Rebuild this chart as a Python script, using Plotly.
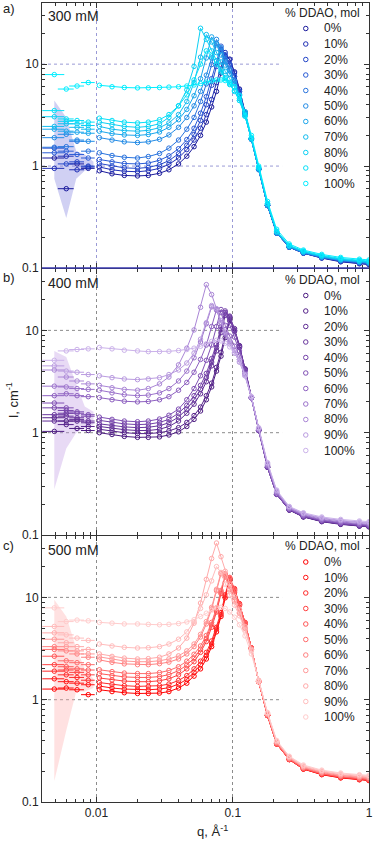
import math
import plotly.graph_objects as go

# ---------------- data ----------------
LABELS = ["0%", "10%", "20%", "30%", "40%", "50%", "60%", "70%", "80%", "90%", "100%"]
LEGEND_TITLE = "% DDAO, mol"
PANELS = ["300 mM", "400 mM", "500 mM"]
PANEL_TAGS = ["a)", "b)", "c)"]

Q = [0.0105, 0.013, 0.016, 0.02, 0.024, 0.029, 0.034, 0.04, 0.046, 0.052, 0.058, 0.064, 0.07,
     0.076, 0.082, 0.088, 0.095, 0.103, 0.112, 0.123, 0.137, 0.155, 0.18, 0.21, 0.26, 0.33,
     0.45, 0.62, 0.85, 1.0]
Q_LOW = [0.0049, 0.006, 0.0072, 0.0087]
Q_LOW_ERR = [0.0009, 0.0008, 0.0009, 0.001]

I300 = [
    [0.90,0.84,0.81,0.80,0.81,0.85,0.92,1.05,1.25,1.55,2.0,2.7,3.8,5.4,8.2,12.0,11.2,8.4,5.7,3.4,1.85,0.93,0.41,0.22,0.16,0.14,0.125,0.115,0.11,0.108],
    [0.98,0.92,0.89,0.88,0.90,0.95,1.04,1.2,1.45,1.8,2.35,3.2,4.5,6.6,9.8,13.0,11.0,8.2,5.6,3.4,1.85,0.93,0.41,0.22,0.16,0.14,0.126,0.116,0.111,0.109],
    [1.06,1.0,0.96,0.95,0.97,1.03,1.13,1.32,1.6,2.05,2.8,4.0,6.2,9.5,14.0,12.0,9.8,7.6,5.4,3.35,1.85,0.93,0.41,0.22,0.16,0.14,0.126,0.117,0.112,0.11],
    [1.16,1.1,1.06,1.05,1.07,1.14,1.26,1.48,1.82,2.35,3.3,4.8,7.2,10.8,15.0,12.4,10.0,7.6,5.4,3.3,1.85,0.93,0.41,0.22,0.16,0.141,0.127,0.118,0.113,0.111],
    [1.35,1.27,1.22,1.2,1.24,1.33,1.5,1.8,2.3,3.0,4.3,6.4,9.9,16.0,13.6,10.6,8.6,6.8,5.0,3.25,1.82,0.92,0.41,0.22,0.16,0.141,0.127,0.118,0.113,0.111],
    [1.9,1.8,1.73,1.7,1.73,1.83,2.02,2.4,3.0,3.9,5.4,7.8,11.5,17.5,14.5,11.2,8.9,6.9,5.0,3.25,1.83,0.93,0.41,0.22,0.162,0.142,0.128,0.119,0.114,0.112],
    [2.2,2.08,2.02,2.0,2.04,2.16,2.4,2.85,3.6,4.9,7.2,11.5,18.5,15.5,12.3,9.8,8.0,6.5,4.9,3.2,1.85,0.94,0.42,0.225,0.163,0.143,0.129,0.12,0.115,0.113],
    [2.45,2.3,2.23,2.2,2.24,2.38,2.65,3.2,4.3,6.6,11.7,19.5,16.5,13.0,10.5,8.5,7.2,6.0,4.6,3.1,1.85,0.95,0.42,0.225,0.164,0.144,0.13,0.121,0.116,0.114],
    [2.7,2.55,2.45,2.4,2.45,2.6,3.0,3.9,5.6,9.5,22.5,17.5,13.5,10.8,8.8,7.4,6.4,5.5,4.4,3.1,1.87,0.96,0.43,0.228,0.165,0.145,0.131,0.122,0.117,0.115],
    [2.95,2.8,2.7,2.65,2.7,2.85,3.2,3.9,5.0,7.0,10.0,13.5,12.0,10.0,8.4,7.2,6.3,5.4,4.4,3.1,1.9,0.97,0.43,0.23,0.167,0.147,0.133,0.124,0.119,0.117],
    [6.2,6.0,5.9,5.85,5.85,5.9,5.95,6.0,6.1,6.25,6.45,6.65,6.85,7.0,7.0,6.9,6.6,6.0,4.9,3.4,2.0,1.0,0.45,0.24,0.172,0.15,0.136,0.127,0.122,0.12],
]
I300_LOW = [
    [1.2,0.6,1.05,0.95], [0.95,1.25,0.92,0.98], [1.5,1.05,1.1,1.0], [1.35,1.4,1.3,1.2],
    [1.53,1.55,1.75,1.4], [1.9,2.05,1.8,1.75], [2.3,2.2,2.15,2.1], [2.45,2.6,2.4,2.3],
    [3.05,2.75,2.6,2.5], [3.5,2.9,2.8,2.7], [7.9,5.7,6.1,6.6],
]

I400 = [
    [1.0,0.96,0.92,0.9,0.9,0.91,0.95,1.02,1.15,1.35,1.63,2.1,2.8,4.0,5.6,8.5,12.5,10.0,7.0,4.2,2.2,1.05,0.46,0.25,0.175,0.15,0.135,0.127,0.122,0.12],
    [1.08,1.04,1.0,0.98,0.98,1.0,1.04,1.12,1.26,1.47,1.78,2.3,3.05,4.35,6.1,9.2,13.5,10.4,7.1,4.2,2.2,1.05,0.46,0.25,0.176,0.151,0.136,0.128,0.123,0.121],
    [1.15,1.1,1.07,1.05,1.05,1.08,1.15,1.3,1.55,1.9,2.4,3.15,4.5,6.3,9.5,14.0,13.0,9.8,6.8,4.1,2.2,1.05,0.46,0.25,0.176,0.151,0.136,0.128,0.123,0.121],
    [1.22,1.17,1.14,1.12,1.13,1.17,1.25,1.42,1.7,2.1,2.65,3.45,4.9,6.8,10.2,15.0,13.5,10.0,6.9,4.1,2.2,1.05,0.46,0.25,0.177,0.152,0.137,0.129,0.124,0.122],
    [1.32,1.26,1.22,1.2,1.21,1.26,1.35,1.55,1.85,2.3,2.9,3.8,5.3,7.3,10.8,15.5,13.8,10.1,6.9,4.1,2.2,1.06,0.46,0.25,0.177,0.152,0.137,0.129,0.124,0.122],
    [1.42,1.35,1.3,1.28,1.3,1.36,1.48,1.7,2.1,2.7,3.6,5.1,7.2,10.9,16.0,14.9,11.2,8.6,6.3,4.0,2.2,1.06,0.47,0.25,0.178,0.153,0.138,0.13,0.125,0.123],
    [2.2,2.1,2.03,2.0,2.02,2.1,2.25,2.6,3.1,3.9,5.2,7.2,10.9,16.0,14.9,11.2,8.8,7.0,5.6,3.8,2.2,1.07,0.47,0.255,0.18,0.155,0.14,0.132,0.127,0.125],
    [2.6,2.45,2.35,2.3,2.33,2.45,2.7,3.2,4.0,5.4,7.7,11.6,17.0,15.8,11.9,9.3,7.7,6.4,5.2,3.7,2.2,1.08,0.48,0.26,0.182,0.157,0.142,0.134,0.129,0.127],
    [2.9,2.75,2.65,2.6,2.7,3.0,3.5,4.6,6.7,10.1,16.8,28.0,22.4,16.2,12.0,9.2,7.4,6.0,4.9,3.6,2.2,1.09,0.49,0.265,0.185,0.16,0.145,0.137,0.132,0.13],
    [3.6,3.45,3.35,3.3,3.35,3.45,3.7,4.1,4.8,6.0,8.2,11.9,17.5,16.3,12.5,9.8,7.9,6.5,5.2,3.7,2.25,1.1,0.5,0.27,0.188,0.162,0.147,0.139,0.134,0.132],
    [6.8,6.6,6.4,6.3,6.2,6.2,6.25,6.35,6.5,6.7,7.0,7.4,7.8,8.0,7.9,7.5,6.9,6.1,5.0,3.6,2.25,1.12,0.51,0.275,0.19,0.165,0.15,0.142,0.137,0.135],
]
I400_LOW = [
    [1.03,1.3,1.1,1.05], [1.4,1.2,1.3,1.15], [1.3,1.45,1.35,1.25], [1.5,1.55,1.4,1.3],
    [1.75,1.65,1.55,1.45], [1.95,1.75,1.6,1.5], [2.3,2.4,2.3,2.25], [2.85,2.8,2.7,2.65],
    [4.1,3.5,3.2,3.0], [4.5,4.0,3.9,3.7], [5.1,6.3,6.5,6.6],
]

I500 = [
    [1.25,1.2,1.17,1.15,1.15,1.16,1.2,1.3,1.45,1.7,2.0,2.5,3.3,4.6,6.5,9.9,14.5,11.6,8.5,5.6,3.2,1.5,0.7,0.37,0.26,0.21,0.185,0.172,0.165,0.162],
    [1.36,1.3,1.27,1.25,1.25,1.27,1.31,1.42,1.58,1.85,2.2,2.7,3.5,4.9,6.8,10.3,15.0,11.9,8.6,5.6,3.2,1.5,0.7,0.37,0.26,0.21,0.186,0.173,0.166,0.163],
    [1.47,1.41,1.37,1.35,1.35,1.37,1.42,1.54,1.72,2.0,2.38,2.9,3.75,5.1,7.1,10.6,15.5,12.2,8.7,5.7,3.2,1.5,0.7,0.37,0.26,0.211,0.187,0.174,0.167,0.164],
    [1.63,1.56,1.52,1.5,1.5,1.53,1.6,1.75,2.0,2.35,2.9,3.7,5.1,7.2,10.9,16.0,14.9,11.2,8.3,5.5,3.2,1.5,0.7,0.37,0.262,0.212,0.188,0.175,0.168,0.165],
    [1.8,1.72,1.67,1.65,1.65,1.68,1.76,1.92,2.18,2.55,3.1,3.95,5.4,7.5,11.3,16.5,15.3,11.5,8.4,5.5,3.2,1.5,0.7,0.37,0.262,0.213,0.189,0.176,0.169,0.166],
    [1.96,1.88,1.82,1.8,1.8,1.84,1.93,2.1,2.38,2.78,3.35,4.25,5.7,7.9,11.7,17.0,15.7,11.8,8.5,5.6,3.2,1.52,0.71,0.375,0.264,0.214,0.19,0.177,0.17,0.167],
    [2.45,2.32,2.24,2.2,2.2,2.25,2.33,2.5,2.8,3.3,4.1,5.5,7.7,11.6,17.0,15.8,11.9,9.2,7.0,5.0,3.1,1.52,0.72,0.38,0.268,0.218,0.194,0.181,0.174,0.171],
    [2.62,2.48,2.39,2.35,2.35,2.4,2.5,2.68,3.0,3.5,4.35,5.8,8.0,12.0,17.5,16.2,12.2,9.4,7.1,5.0,3.1,1.53,0.72,0.385,0.27,0.22,0.196,0.183,0.176,0.173],
    [2.8,2.65,2.55,2.5,2.52,2.6,2.8,3.2,4.0,5.6,8.8,15.0,24.0,34.0,25.0,18.0,13.5,10.2,7.6,5.2,3.1,1.54,0.73,0.39,0.273,0.222,0.198,0.185,0.178,0.175],
    [3.5,3.35,3.25,3.2,3.22,3.3,3.5,3.9,4.6,5.8,7.8,10.6,14.5,20.0,17.5,13.5,10.5,8.4,6.6,4.8,3.0,1.55,0.74,0.395,0.277,0.226,0.202,0.189,0.182,0.179],
    [5.7,5.6,5.5,5.5,5.45,5.4,5.45,5.55,5.75,6.05,6.5,7.0,7.5,7.9,8.0,7.8,7.2,6.4,5.4,4.2,2.8,1.5,0.75,0.4,0.28,0.23,0.205,0.192,0.185,0.182],
]
I500_LOW = [
    [1.27,1.3,1.25,1.12], [1.6,1.5,1.45,1.4], [1.9,1.75,1.65,1.55], [2.2,1.95,1.85,1.75],
    [2.66,2.1,2.0,1.95], [3.1,2.4,2.3,2.2], [3.3,3.0,2.8,2.6], [3.9,3.3,3.0,2.8],
    [4.5,3.6,3.3,3.1], [5.2,4.3,4.0,3.8], [7.9,5.8,6.0,5.9],
]

# shaded error bands at low q
BAND_Q = [0.0049, 0.006, 0.0071, 0.0082, 0.0095]
BAND300_HI = [4.4, 3.0, 1.4, 1.3, 1.1]
BAND300_LO = [0.75, 0.31, 0.75, 0.9, 0.95]
BAND400_HI = [6.3, 5.5, 3.0, 1.8, 1.6]
BAND400_LO = [0.28, 0.7, 1.0, 1.1, 1.2]
BAND500_HI = [9.5, 6.5, 3.2, 2.0, 1.6]
BAND500_LO = [0.16, 0.5, 1.2, 1.2, 1.3]

COLORS300 = ["#1a1a9c", "#1f2fb5", "#2446c8", "#2a5cd6", "#2a74de", "#248ce6",
             "#1aa6ec", "#12bcf0", "#0ad0f4", "#06e0f8", "#00eeff"]
COLORS400 = ["#4b1a80", "#55228a", "#5f2c94", "#69379e", "#7442a8", "#8050b4",
             "#8d60c0", "#9b72cb", "#aa86d6", "#ba9ce0", "#cbb2ea"]
COLORS500 = ["#ff0000", "#ff1414", "#ff2a2a", "#ff4040", "#ff5656", "#ff6c6c",
             "#ff8282", "#ff9898", "#ffaaaa", "#ffbcbc", "#ffcccc"]
BAND_COLORS = ["rgba(120,120,220,0.35)", "rgba(190,150,225,0.35)", "rgba(255,170,170,0.35)"]

X_TICKS = [0.01, 0.1, 1]
X_TICKTEXT = ["0.01", "0.1", "1"]
Y_TICKS = [0.1, 1, 10]
Y_TICKTEXT = ["0.1", "1", "10"]
H_GRID = [1, 10]

# ---------------- geometry ----------------
W, H = 375, 844
ML, MR, MT, MB = 42, 2, 3, 42
PW = W - ML - MR
PH = H - MT - MB
YLOG = [-1.0, 1.6]
XLOG = [-2.4, 0.0]


def py(px):
    return (H - MB - px) / PH


def px_x(px):
    return (px - ML) / PW


domains = [[py(268), 1.0], [py(535), py(269)], [0.0, py(536)]]
label_y = [9, 277, 545]
name_y = [16, 283, 550]
legend_title_y = [13, 280, 546]
legend_first_y = [28.5, 295.5, 562]
LEGEND_STEP = 15.5

FONT = "Liberation Sans, Arial, sans-serif"
minor_x = [0.004, 0.005, 0.006, 0.007, 0.008, 0.009, 0.02, 0.03, 0.04, 0.05, 0.06, 0.07,
           0.08, 0.09, 0.2, 0.3, 0.4, 0.5, 0.6, 0.7, 0.8, 0.9]
minor_y = [0.2, 0.3, 0.4, 0.5, 0.6, 0.7, 0.8, 0.9, 2, 3, 4, 5, 6, 7, 8, 9, 20, 30]

fig = go.Figure()

datasets = [(I300, I300_LOW, COLORS300, BAND300_HI, BAND300_LO),
            (I400, I400_LOW, COLORS400, BAND400_HI, BAND400_LO),
            (I500, I500_LOW, COLORS500, BAND500_HI, BAND500_LO)]

for p, (vals, lows, cols, bhi, blo) in enumerate(datasets):
    xa = "x" if p == 0 else f"x{p+1}"
    ya = "y" if p == 0 else f"y{p+1}"
    fig.add_trace(go.Scatter(x=BAND_Q + BAND_Q[::-1], y=bhi + blo[::-1], fill="toself",
                             fillcolor=BAND_COLORS[p], line=dict(width=0), mode="lines",
                             showlegend=False, hoverinfo="skip", xaxis=xa, yaxis=ya))
    for i, lab in enumerate(LABELS):
        c = cols[i]
        fig.add_trace(go.Scatter(x=Q, y=vals[i], mode="lines", line=dict(color=c, width=1),
                                 showlegend=False, hoverinfo="skip", xaxis=xa, yaxis=ya))
        fig.add_trace(go.Scatter(
            x=Q_LOW + Q, y=lows[i] + vals[i], mode="markers", name=lab, showlegend=False,
            marker=dict(symbol="circle-open", size=4.5, color=c, line=dict(width=1, color=c)),
            error_x=dict(type="data", array=Q_LOW_ERR + [0] * len(Q), color=c,
                         thickness=1, width=0),
            xaxis=xa, yaxis=ya))

# legend markers on a pixel-space overlay axis
leg_x, leg_y, leg_c = [], [], []
for p, (vals, lows, cols, bhi, blo) in enumerate(datasets):
    for i in range(len(LABELS)):
        leg_x.append(309)
        leg_y.append(legend_first_y[p] + i * LEGEND_STEP)
        leg_c.append(cols[i])
fig.add_trace(go.Scatter(x=leg_x, y=leg_y, mode="markers", showlegend=False, hoverinfo="skip",
                         marker=dict(symbol="circle-open", size=4.5, color=leg_c,
                                     line=dict(width=1)),
                         xaxis="x4", yaxis="y4"))

grid_cols = ["#9a9ad6", "#8c8c8c", "#8c8c8c"]
layout = dict(
    width=W, height=H, margin=dict(l=ML, r=MR, t=MT, b=MB),
    paper_bgcolor="white", plot_bgcolor="rgba(0,0,0,0)",
    font=dict(family=FONT, size=12, color="#222"), showlegend=False,
)
shapes = []
for p in range(3):
    sx = "" if p == 0 else str(p + 1)
    axis_common = dict(showline=True, linecolor="#333", linewidth=1, mirror="allticks",
                       ticks="inside", ticklen=5, tickwidth=1, tickcolor="#333",
                       zeroline=False, type="log", tickfont=dict(size=12, color="#222"))
    layout["xaxis" + sx] = dict(axis_common, range=XLOG, domain=[0, 1],
                                anchor="y" + sx, tickmode="array", tickvals=X_TICKS,
                                ticktext=X_TICKTEXT, showticklabels=(p == 2),
                                ticklabeloverflow="allow",
                                showgrid=True, gridcolor=grid_cols[p], griddash="dot", gridwidth=1,
                                minor=dict(tickmode="array", tickvals=minor_x, ticks="inside",
                                           ticklen=3, tickcolor="#333", showgrid=False))
    layout["yaxis" + sx] = dict(axis_common, range=YLOG, domain=domains[p],
                                anchor="x" + sx, tickmode="array", tickvals=Y_TICKS,
                                ticktext=Y_TICKTEXT, showgrid=False,
                                minor=dict(tickmode="array", tickvals=minor_y, ticks="inside",
                                           ticklen=3, tickcolor="#333", showgrid=False))
    d0, d1 = domains[p]
    for g in H_GRID:
        frac = (math.log10(g) - YLOG[0]) / (YLOG[1] - YLOG[0])
        yy = d0 + frac * (d1 - d0)
        shapes.append(dict(type="line", xref="paper", yref="paper", x0=0, x1=px_x(285),
                           y0=yy, y1=yy, layer="below",
                           line=dict(color=grid_cols[p], width=1, dash="dot")))

layout["xaxis4"] = dict(domain=[0, 1], range=[ML, W - MR], visible=False, anchor="y4",
                        fixedrange=True)
layout["yaxis4"] = dict(domain=[0, 1], range=[H - MB, MT], visible=False, anchor="x4",
                        fixedrange=True)

annotations = []
for p in range(3):
    annotations.append(dict(text=PANEL_TAGS[p], xref="paper", yref="paper", x=px_x(1),
                            y=py(label_y[p]), xanchor="left", yanchor="middle", showarrow=False,
                            font=dict(size=13, color="#222", family=FONT)))
    annotations.append(dict(text=PANELS[p], xref="paper", yref="paper", x=px_x(46),
                            y=py(name_y[p]), xanchor="left", yanchor="middle", showarrow=False,
                            font=dict(size=14, color="#222", family=FONT)))
    annotations.append(dict(text=LEGEND_TITLE, xref="paper", yref="paper", x=px_x(286),
                            y=py(legend_title_y[p]), xanchor="left", yanchor="middle",
                            showarrow=False, font=dict(size=12, color="#222", family=FONT)))
    for i, lab in enumerate(LABELS):
        annotations.append(dict(text=lab, xref="paper", yref="paper", x=px_x(325),
                                y=py(legend_first_y[p] + i * LEGEND_STEP), xanchor="left",
                                yanchor="middle", showarrow=False,
                                font=dict(size=12, color="#222", family=FONT)))
annotations.append(dict(text="I, cm<sup>-1</sup>", xref="paper", yref="paper", x=px_x(12),
                        y=py(400), textangle=-90, xanchor="center", yanchor="middle",
                        showarrow=False, font=dict(size=13, color="#222", family=FONT)))
annotations.append(dict(text="q, Å<sup>-1</sup>", xref="paper", yref="paper", x=px_x(215),
                        y=py(831), xanchor="center", yanchor="middle",
                        showarrow=False, font=dict(size=13, color="#222", family=FONT)))
layout["annotations"] = annotations
shapes.append(dict(type="line", xref="paper", yref="paper", x0=0, x1=1,
                   y0=py(268), y1=py(268), line=dict(color="#3a3ab0", width=1.5)))
layout["shapes"] = shapes

fig.update_layout(**layout)
fig.write_html("out.html", config={"displayModeBar": False},
               post_script="document.body.style.margin='0';document.body.style.overflow='hidden';")
